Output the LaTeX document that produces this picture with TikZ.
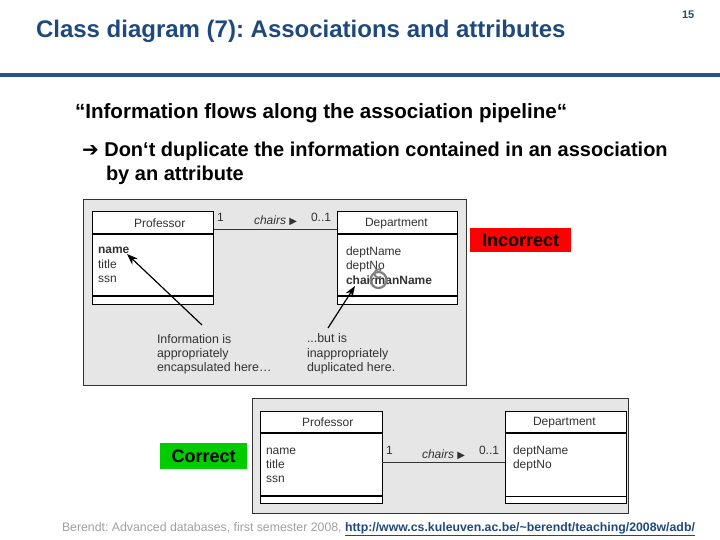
\documentclass[tikz,border=0pt]{standalone}
\usepackage{fontspec}
\setmainfont{Liberation Sans}
\newfontfamily\dejavu{DejaVu Sans}
\usetikzlibrary{arrows.meta,calc}
\frenchspacing
\definecolor{titleblue}{RGB}{31,73,125}
\definecolor{lineblue}{RGB}{40,84,140}
\definecolor{diagbg}{RGB}{230,230,230}
\definecolor{diagtext}{RGB}{50,50,50}
\definecolor{footgray}{RGB}{160,160,160}
\definecolor{okgreen}{RGB}{0,204,0}
\tikzset{
  txt/.style={anchor=base west, inner sep=0pt, outer sep=0pt},
  uml/.style={txt, font=\fontsize{12}{14}\selectfont, text=diagtext},
  umlb/.style={uml, font=\fontsize{12}{14}\selectfont\bfseries},
  panel/.style={draw=black!80, line width=1pt, fill=diagbg, inner sep=0pt, anchor=north west},
  classbox/.style={draw=black, line width=1.3pt, fill=white, inner sep=0pt, anchor=north west},
  note/.style={txt, font=\fontsize{12.4}{14}\selectfont, text=diagtext},
  pointer/.style={line width=1.2pt, -{Stealth[length=11pt,width=8pt]}},
  verdict/.style={inner sep=0pt, anchor=north west, font=\fontsize{18}{20}\selectfont\bfseries, text=black}
}
\begin{document}
\begin{tikzpicture}[x=1pt,y=-1pt]
\useasboundingbox (0,0) rectangle (720,540);
% header
\node[txt, font=\fontsize{24}{26}\selectfont\bfseries, text=titleblue] (title) at (36,38) {Class diagram (7): Associations and attributes};
\node[txt, font=\fontsize{11}{13}\selectfont\bfseries, text=titleblue] (pg) at (682,19) {15};
\fill[lineblue] (0,73.5) rectangle (720,77);
% text
\node[txt, font=\fontsize{20.6}{23}\selectfont\bfseries] (quote) at (75,119) {“Information flows along the association pipeline“};
\node[txt, font=\fontsize{20}{23}\selectfont\bfseries] (rule1) at (82,157) {{\dejavu\fontsize{20}{22}\selectfont ➔} Don‘t duplicate the information contained in an association};
\node[txt, font=\fontsize{20}{23}\selectfont\bfseries] (rule2) at (106,181) {by an attribute};

% ===== top diagram (incorrect) =====
\node[panel, minimum width=383, minimum height=186] (panA) at (83,199) {};
\node[classbox, minimum width=121, minimum height=93] (profA) at (92,211) {};
\node[classbox, minimum width=120, minimum height=93] (deptA) at (337,211) {};
\draw[line width=1.3pt] ($(profA.north west)+(0,23)$) -- ($(profA.north east)+(0,23)$);
\draw[line width=2.2pt] ($(profA.south west)+(0,-9)$) -- ($(profA.south east)+(0,-9)$);
\draw[line width=1.3pt] ($(deptA.north west)+(0,23)$) -- ($(deptA.north east)+(0,23)$);
\draw[line width=2.2pt] ($(deptA.south west)+(0,-9)$) -- ($(deptA.south east)+(0,-9)$);
\node[uml] (profAn) at (134,227) {Professor};
\node[uml] (deptAn) at (365,226) {Department};
\draw[line width=0.9pt, black!80] ($(profA.north east)+(0,18)$) coordinate (aA1) -- ($(deptA.north west)+(0,18)$) coordinate (aA2);
\node[uml] (mA1) at (217,222) {1};
\node[uml, font=\fontsize{12}{14}\selectfont\itshape] (chA) at (254,225) {chairs {\dejavu\upshape\fontsize{10}{10}\selectfont ▶}};
\node[uml] (mA2) at (311,222) {0..1};
\node[umlb] (nameA) at (98,254) {name};
\node[uml] (titleA) at (98,268) {title};
\node[uml] (ssnA) at (98,282) {ssn};
\node[uml] (dnA) at (346,255) {deptName};
\node[uml] (dnoA) at (346,269) {deptNo};
\node[umlb] (chmA) at (346,284) {chairmanName};
% copyright-like mark
\draw[gray, line width=2.2pt] (378.5,280) circle (8);
\draw[gray, line width=1.8pt] (381.2,276.7) arc (50:310:4.2);
\node[note] (noteA1) at (157,343) {Information is};
\node[note] (noteA2) at (157,357) {appropriately};
\node[note] (noteA3) at (157,371) {encapsulated here\ldots};
\node[note] (noteB1) at (307,342) {...but is};
\node[note] (noteB2) at (307,357) {inappropriately};
\node[note] (noteB3) at (307,371) {duplicated here.};
\coordinate (pA) at (202,325);
\coordinate (tA) at (127,254);
\coordinate (pB) at (328,328);
\coordinate (tB) at (355,286);
\draw[pointer] (pA) -- (tA);
\draw[pointer] (pB) -- (tB);
\node[verdict, fill=red, minimum width=101, minimum height=24] (wrong) at (470,228) {Incorrect};

% ===== bottom diagram (correct) =====
\node[panel, minimum width=376, minimum height=115] (panB) at (252,398) {};
\node[classbox, minimum width=122, minimum height=92] (profB) at (260,411) {};
\node[classbox, minimum width=121, minimum height=92] (deptB) at (505,411) {};
\draw[line width=1.3pt] ($(profB.north west)+(0,22)$) -- ($(profB.north east)+(0,22)$);
\draw[line width=2.2pt] ($(profB.south west)+(0,-8)$) -- ($(profB.south east)+(0,-8)$);
\draw[line width=1.3pt] ($(deptB.north west)+(0,22)$) -- ($(deptB.north east)+(0,22)$);
\draw[line width=1.3pt] ($(deptB.south west)+(0,-8)$) -- ($(deptB.south east)+(0,-8)$);
\node[uml] (profBn) at (302,426) {Professor};
\node[uml] (deptBn) at (533,425) {Department};
\draw[line width=0.9pt, black!80] ($(profB.north west)+(122,51)$) coordinate (aB1) -- ($(deptB.north west)+(0,51)$) coordinate (aB2);
\node[uml] (mB1) at (386,454) {1};
\node[uml, font=\fontsize{12}{14}\selectfont\itshape] (chB) at (422,458) {chairs {\dejavu\upshape\fontsize{10}{10}\selectfont ▶}};
\node[uml] (mB2) at (479,454) {0..1};
\node[uml] (nameB) at (266,454) {name};
\node[uml] (titleB) at (266,468) {title};
\node[uml] (ssnB) at (266,482) {ssn};
\node[uml] (dnB) at (513,454) {deptName};
\node[uml] (dnoB) at (513,468) {deptNo};
\node[verdict, fill=okgreen, minimum width=87, minimum height=26] (right) at (160,443) {Correct};

% footer
\node[txt, font=\fontsize{12.3}{14}\selectfont, text=footgray] (foot) at (62,531) {Berendt: Advanced databases, first semester 2008, \textcolor{titleblue}{\bfseries\underline{http://www.cs.kuleuven.ac.be/\textasciitilde berendt/teaching/2008w/adb/}}};
\end{tikzpicture}
\end{document}
